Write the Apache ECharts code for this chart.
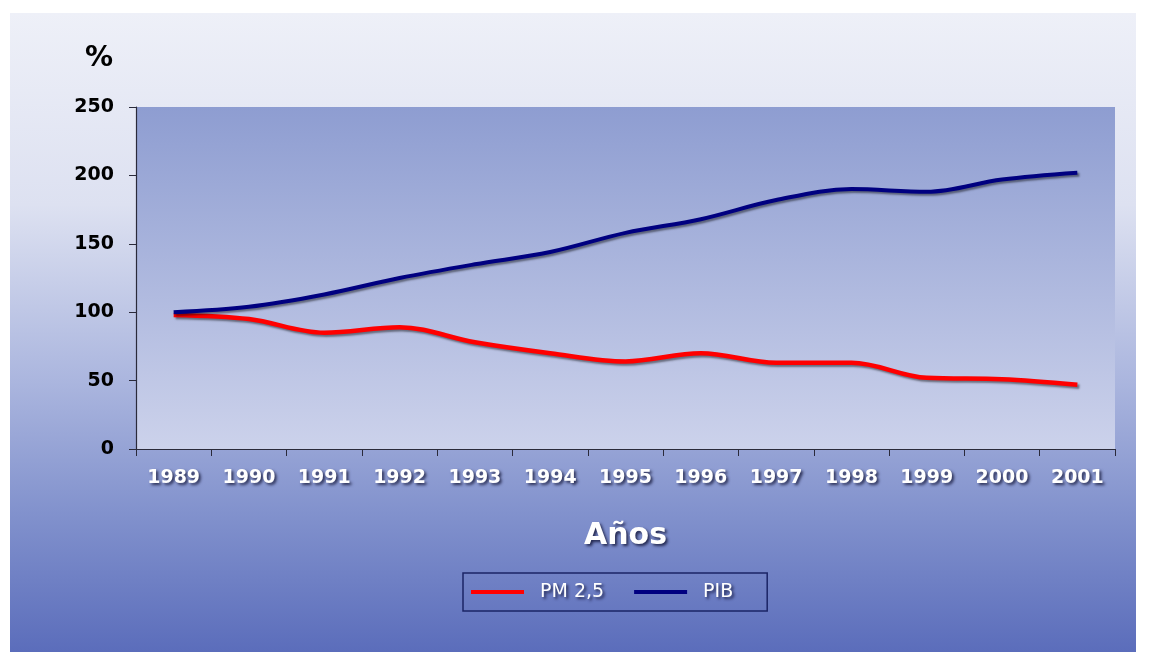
<!DOCTYPE html>
<html>
<head>
<meta charset="utf-8">
<script src="https://cdn.jsdelivr.net/npm/echarts@6/dist/echarts.min.js"></script>
<style>
  html, body { margin: 0; padding: 0; background: #fff; }
  #panel {
    position: absolute; left: 10px; top: 13px; width: 1126px; height: 639px;
    background: linear-gradient(to bottom, #eef0f8 0%, #dde1f1 30%, #aab5de 58%, #8292cd 78%, #5b6dbb 100%);
  }
  #chart { position: absolute; left: 0; top: 0; width: 1149px; height: 652px; }
</style>
</head>
<body>
<div id="panel"></div>
<div id="chart"></div>
<script>
// data (index, 1989 = 100)
const years = ['1989', '1990', '1991', '1992', '1993', '1994', '1995', '1996', '1997', '1998', '1999', '2000', '2001'];
const pm25 = [98, 95, 85, 89, 78, 70, 64, 70, 63, 63, 52, 51, 47];
const pib = [100, 104, 113, 125, 135, 144, 158, 168, 182, 190, 188, 197, 202];

const font = 'DejaVu Sans';
const shadowText = {
    textShadowColor: 'rgba(0,0,30,0.7)',
    textShadowOffsetX: 2,
    textShadowOffsetY: 2,
    textShadowBlur: 3
};
const lineShadow = {
    shadowColor: 'rgba(0,0,0,0.45)',
    shadowOffsetX: 2,
    shadowOffsetY: 2,
    shadowBlur: 2
};

const chart = echarts.init(document.getElementById('chart'));

const option = {
    animation: false,
    grid: {
        left: 136,
        right: 34,
        top: 107,
        bottom: 203,
        show: true,
        borderWidth: 0,
        backgroundColor: new echarts.graphic.LinearGradient(0, 0, 0, 1, [
            {offset: 0, color: '#8e9dd1'},
            {offset: 1, color: '#ccd2eb'}
        ])
    },
    legend: {
        data: ['PM 2,5', 'PIB'],
        left: 463,
        top: 573,
        icon: 'rect',
        itemWidth: 53,
        itemHeight: 4,
        itemGap: 30,
        padding: [9, 34, 9, 8],
        backgroundColor: 'rgba(0,0,0,0)',
        borderColor: '#1b2466',
        borderWidth: 1.5,
        textStyle: Object.assign({
            color: '#fff',
            fontFamily: font,
            fontSize: 19,
            lineHeight: 20,
            padding: [0, 0, 0, 11]
        }, shadowText)
    },
    xAxis: {
        type: 'category',
        data: years,
        boundaryGap: true,
        name: 'Años',
        nameLocation: 'middle',
        nameGap: 72,
        nameTextStyle: Object.assign({
            color: '#fff',
            fontFamily: font,
            fontWeight: 'bold',
            fontSize: 30
        }, shadowText),
        axisLine: {lineStyle: {color: '#2a2a3a', width: 1.2}},
        axisTick: {show: true, length: 7, lineStyle: {color: '#2a2a3a'}},
        axisLabel: Object.assign({
            color: '#fff',
            fontFamily: font,
            fontWeight: 'bold',
            fontSize: 19,
            margin: 20,
            interval: 0
        }, shadowText),
        splitLine: {show: false}
    },
    yAxis: {
        type: 'value',
        min: 0,
        max: 250,
        interval: 50,
        name: '%',
        nameLocation: 'end',
        nameGap: 34,
        nameTextStyle: {
            color: '#000',
            fontFamily: font,
            fontWeight: 'bold',
            fontSize: 28,
            align: 'right',
            padding: [0, 23, 0, 0]
        },
        axisLine: {show: true, lineStyle: {color: '#2a2a3a', width: 1.2}},
        axisTick: {show: true, length: 7, lineStyle: {color: '#2a2a3a'}},
        axisLabel: {
            color: '#000',
            fontFamily: font,
            fontWeight: 'bold',
            fontSize: 19,
            margin: 22
        },
        splitLine: {show: false}
    },
    series: [
        {
            name: 'PM 2,5',
            type: 'line',
            data: pm25,
            smooth: 0.35,
            symbol: 'none',
            color: '#ff0000',
            lineStyle: Object.assign({color: '#ff0000', width: 4.5}, lineShadow)
        },
        {
            name: 'PIB',
            type: 'line',
            data: pib,
            smooth: 0.35,
            symbol: 'none',
            color: '#000080',
            lineStyle: Object.assign({color: '#000080', width: 4}, lineShadow)
        }
    ]
};

chart.setOption(option);
</script>
</body>
</html>
